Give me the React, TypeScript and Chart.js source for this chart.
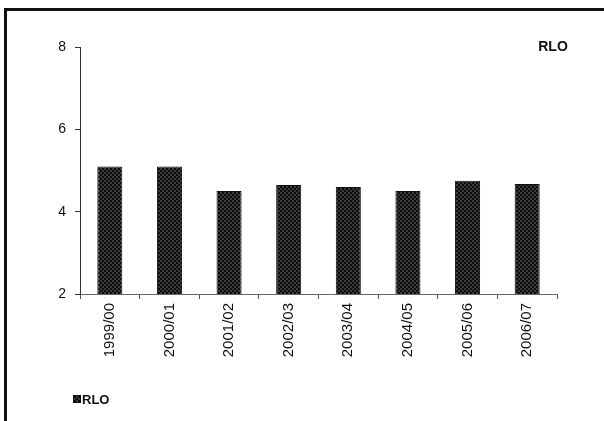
import React, { useEffect, useRef } from "react";
import { Chart, registerables } from "chart.js";

Chart.register(...registerables);

const seriesName = "RLO";
const years = ["1999/00", "2000/01", "2001/02", "2002/03", "2003/04", "2004/05", "2005/06", "2006/07"];
const rloValues = [5.1, 5.1, 4.5, 4.65, 4.6, 4.5, 4.75, 4.67];
const yTicks = [2, 4, 6, 8];

const FONT = "'Liberation Sans', Arial, sans-serif";

// Dark checkered fill used for the bars and the legend swatch
function makeHatch(): CanvasPattern | string {
  const c = document.createElement("canvas");
  c.width = 4;
  c.height = 4;
  const g = c.getContext("2d");
  if (!g) return "#222";
  g.fillStyle = "#0c0c0c";
  g.fillRect(0, 0, 4, 4);
  g.fillStyle = "#3a3a3a";
  g.fillRect(0, 0, 2, 2);
  g.fillRect(2, 2, 2, 2);
  const p = g.createPattern(c, "repeat");
  return p || "#222";
}

export default function App() {
  const ref = useRef<HTMLCanvasElement>(null);

  useEffect(() => {
    if (!ref.current) return;
    const hatch = makeHatch();

    const labelsPlugin = {
      id: "titleAndLegend",
      afterDraw(chart: any) {
        const ctx = chart.ctx;
        ctx.save();
        ctx.fillStyle = "#111";
        ctx.font = `bold 14px ${FONT}`;
        ctx.textAlign = "center";
        ctx.textBaseline = "middle";
        ctx.fillText(seriesName, 553, 47);

        ctx.fillStyle = hatch;
        ctx.fillRect(73, 395, 8, 8);
        ctx.strokeStyle = "#111";
        ctx.lineWidth = 1;
        ctx.strokeRect(73.5, 395.5, 7, 7);
        ctx.fillStyle = "#111";
        ctx.font = `bold 13px ${FONT}`;
        ctx.textAlign = "left";
        ctx.fillText(seriesName, 82, 400);
        ctx.restore();
      },
    };

    const chart = new Chart(ref.current, {
      type: "bar",
      data: {
        labels: years,
        datasets: [
          {
            label: seriesName,
            data: rloValues,
            backgroundColor: hatch as any,
            borderColor: "#111",
            borderWidth: 1,
            categoryPercentage: 0.84,
            barPercentage: 0.5,
          },
        ],
      },
      options: {
        animation: false,
        responsive: false,
        maintainAspectRatio: false,
        layout: { padding: { left: 0, top: 47, right: 47, bottom: 0 } },
        plugins: {
          legend: { display: false },
          title: { display: false },
          tooltip: { enabled: false },
        },
        scales: {
          x: {
            offset: true,
            grid: {
              offset: true,
              drawOnChartArea: false,
              drawTicks: true,
              tickLength: 5,
              color: "#555",
            },
            border: { display: true, color: "#666", width: 1 },
            ticks: {
              minRotation: 90,
              maxRotation: 90,
              color: "#111",
              font: { family: FONT, size: 15 },
              padding: 4,
            },
            afterFit(scale: any) {
              scale.height = 127;
            },
          },
          y: {
            min: 2,
            max: 8,
            afterBuildTicks(scale: any) {
              scale.ticks = yTicks.map((v) => ({ value: v }));
            },
            grid: {
              drawOnChartArea: false,
              drawTicks: true,
              tickLength: 5,
              color: "#333",
            },
            border: { display: true, color: "#333", width: 1 },
            ticks: {
              color: "#111",
              font: { family: FONT, size: 14 },
              padding: 9,
            },
            afterFit(scale: any) {
              scale.width = 80;
            },
          },
        },
      },
      plugins: [labelsPlugin],
    });

    return () => chart.destroy();
  }, []);

  return (
    <div style={{ position: "fixed", left: 0, top: 0, width: 604, height: 421, background: "#fff" }}>
      <canvas ref={ref} width={604} height={421} style={{ position: "absolute", left: 0, top: 0 }} />
      <div
        style={{
          position: "absolute",
          left: 4,
          top: 8,
          right: 0,
          bottom: 0,
          borderTop: "3px solid #111",
          borderLeft: "3px solid #111",
          pointerEvents: "none",
        }}
      />
    </div>
  );
}
